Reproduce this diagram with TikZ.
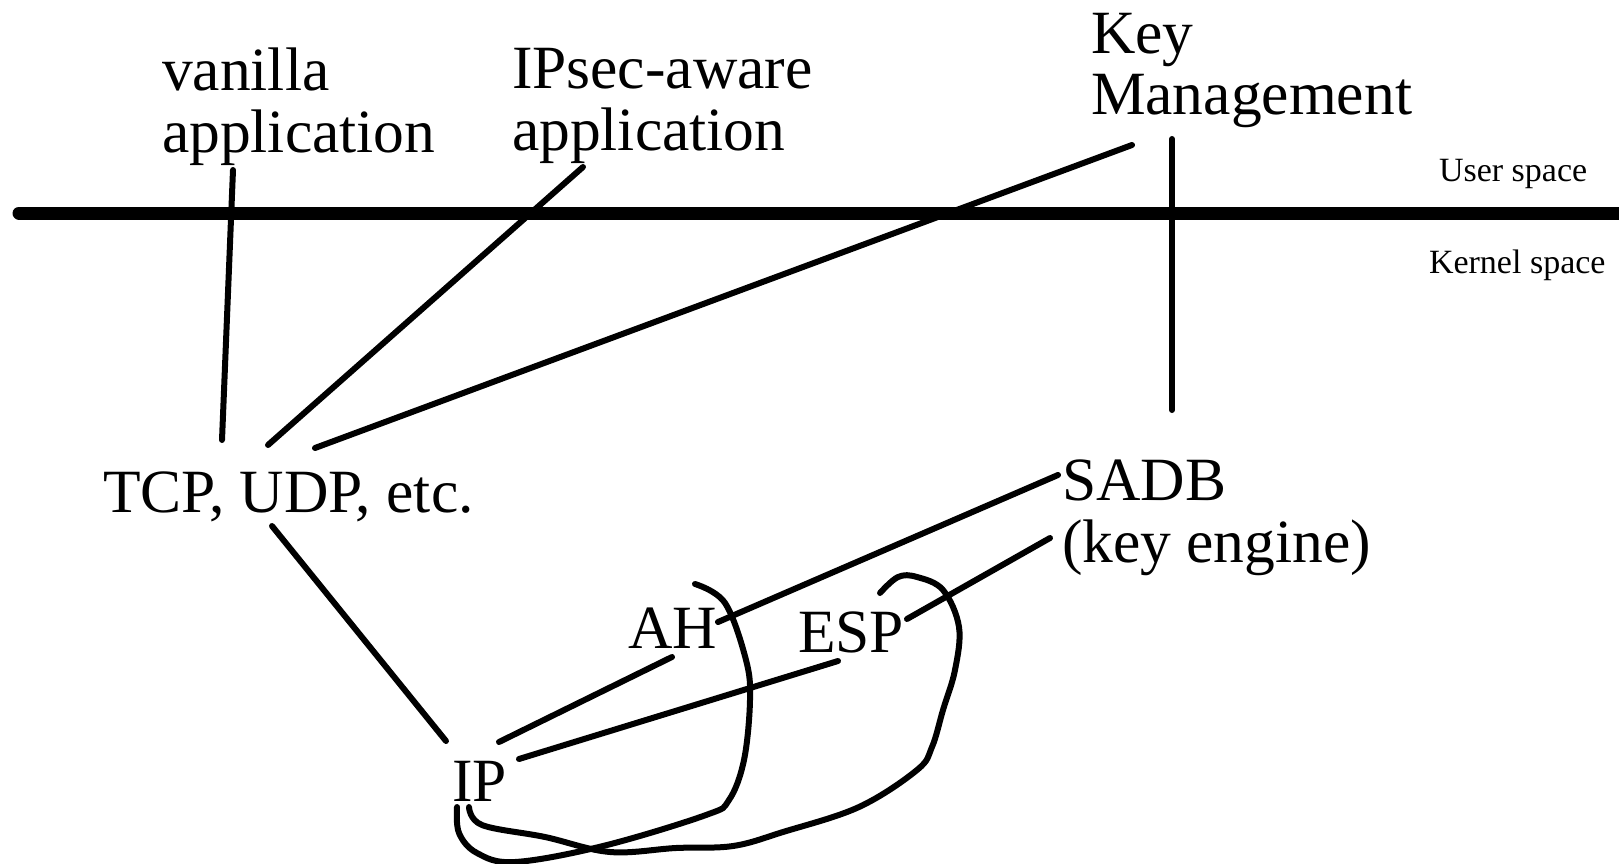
\documentclass[tikz,border=0pt]{standalone}
\usepackage{fontspec}
\setmainfont{Liberation Serif}
\begin{document}
\begin{tikzpicture}[x=1pt,y=-1pt,
  big/.style={font=\fontsize{61.5}{62}\selectfont, inner sep=0pt, outer sep=0pt, anchor=base west, align=left},
  small/.style={font=\fontsize{34}{36}\selectfont, inner sep=0pt, outer sep=0pt, anchor=base west},
  wire/.style={line width=6pt, line cap=round},
  bar/.style={line width=13pt, line cap=round}]
\useasboundingbox (0,0) rectangle (1619,864);
% labels (multi-line nodes are anchored at the baseline of their last line)
\node[big] (van) at (162,152) {vanilla\\application};
\node[big] (ips) at (512,150) {IPsec-aware\\application};
\node[big] (km)  at (1091,115) {Key\\Management};
\node[small] (us) at (1439,181) {User space};
\node[small] (ks) at (1429,273) {Kernel space};
\node[big] (tcp) at (103,512) {TCP, UDP, etc.};
\node[big] (sadb) at (1062,562) {SADB\\(key engine)};
\node[big] (ah) at (628,648) {AH};
\node[big] (esp) at (798,652) {ESP};
\node[big] (ip) at (452,801) {IP};
% connector end points
\coordinate (barL) at (19,213);
\coordinate (barR) at (1640,213);
\coordinate (vanS) at (233,170);
\coordinate (vanE) at (222,440);
\coordinate (ipsS) at (583,167);
\coordinate (ipsE) at (268,445);
\coordinate (kmS) at (1132,145);
\coordinate (kmE) at (315,448);
\coordinate (kmV) at (1172,139);
\coordinate (sadbV) at (1172,410);
\coordinate (tcpS) at (272,526);
\coordinate (ipA) at (446,741);
\coordinate (ahS) at (672,657);
\coordinate (ipB) at (499,742);
\coordinate (espS) at (838,661);
\coordinate (ipC) at (519,759);
\coordinate (ahR) at (718,622);
\coordinate (sadbA) at (1058,475);
\coordinate (espR) at (907,619);
\coordinate (sadbB) at (1050,538);
% user/kernel boundary
\draw[bar] (barL) -- (barR);
% connectors
\draw[wire] (vanS) -- (vanE);
\draw[wire] (ipsS) -- (ipsE);
\draw[wire] (kmS) -- (kmE);
\draw[wire] (kmV) -- (sadbV);
\draw[wire] (tcpS) -- (ipA);
\draw[wire] (ahS) -- (ipB);
\draw[wire] (espS) -- (ipC);
\draw[wire] (ahR) -- (sadbA);
\draw[wire] (espR) -- (sadbB);
% loops
\draw[wire] plot[smooth, tension=0.6] coordinates {(695,584) (725,603) (746,660) (750,700) (744,760) (729,800) (706,815) (603,846) (515,862) (477,853) (459,833) (457,807)};
\draw[wire] plot[smooth, tension=0.6] coordinates {(880,593) (898,577) (917,577) (943,590) (959,627) (955,670) (943,710) (932,747) (917,770) (859,807) (783,832) (733,846) (676,848) (610,852) (545,837) (482,825) (469,807)};
\end{tikzpicture}
\end{document}
